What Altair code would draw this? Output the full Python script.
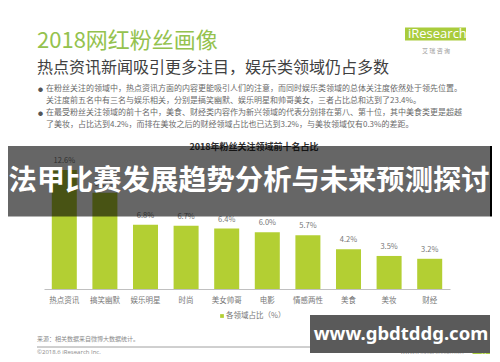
import altair as alt
import pandas as pd

# ---- data ----
categories = ["热点资讯", "搞笑幽默", "娱乐明星", "时尚", "美女帅哥", "电影", "情感两性", "美食", "美妆", "财经"]
shares = [12.6, 10.2, 6.8, 6.7, 6.4, 6.0, 5.7, 4.2, 3.5, 3.2]

title_main = "2018网红粉丝画像"
title_sub = "热点资讯新闻吸引更多注目，娱乐类领域仍占多数"
bullet_lines = [
    "在粉丝关注的领域中，热点资讯方面的内容更能吸引人们的注意，而同时娱乐类领域的总体关注度依然处于领先位置。",
    "关注度前五名中有三名与娱乐相关，分别是搞笑幽默、娱乐明星和帅哥美女，三者占比总和达到了23.4%。",
    "在最受粉丝关注领域的前十名中，美食、财经类内容作为新兴领域的代表分别排在第八、第十位，其中美食类更是超越",
    "了美妆，占比达到4.2%，而排在美妆之后的财经领域占比也已达到3.2%，与美妆领域仅有0.3%的差距。",
]
chart_title = "2018年粉丝关注领域前十名占比"
legend_label = "各领域占比（%）"
source_text = "来源：相关数据来自微博大数据统计。"
copyright_text = "©2018.6 iResearch Inc."
site_text = "www.iresearch.com.cn"
overlay_title = "法甲比赛发展趋势分析与未来预测探讨"
overlay_url = "www.gbdtddg.com"

df = pd.DataFrame({"cat": categories, "val": shares})

CJK = "Noto Sans CJK SC"
GREEN = "#b3cf33"
W, H = 484, 346

one = alt.Chart(pd.DataFrame({"k": [0]}))


def txt(s, x, y, size, color="#666666", weight="normal", align="left", font=CJK, opacity=1.0):
    return one.mark_text(
        align=align, baseline="middle", fontSize=size, color=color,
        fontWeight=weight, font=font, opacity=opacity,
    ).encode(x=alt.value(x), y=alt.value(y), text=alt.value(s))


def box(x1, x2, y1, y2, color, opacity=1.0):
    return one.mark_rect(color=color, opacity=opacity).encode(
        x=alt.value(x1), x2=alt.value(x2), y=alt.value(y1), y2=alt.value(y2)
    )


xscale = alt.Scale(range=[36, 442], paddingInner=0.384, paddingOuter=0.192)
yscale = alt.Scale(domain=[0, 14], range=[281, 281 - 132.2])

bars = alt.Chart(df).mark_bar(color=GREEN).encode(
    x=alt.X("cat:N", sort=None, scale=xscale, title=None,
            axis=alt.Axis(orient="bottom", offset=-65, ticks=False, domainColor="#c0c0c0",
                          labelFont=CJK, labelFontSize=7.5, labelColor="#777777",
                          labelPadding=7, labelAngle=0)),
    y=alt.Y("val:Q", scale=yscale, axis=None),
)

labels = alt.Chart(df).transform_calculate(
    lab="format(datum.val, '.1f') + '%'"
).mark_text(dy=-9, fontSize=7.5, color="#777777", font=CJK).encode(
    x=alt.X("cat:N", sort=None, scale=xscale),
    y=alt.Y("val:Q", scale=yscale),
    text="lab:N",
)

layers = [bars, labels]

# header
layers.append(txt(title_main, 29, 33, 22, color="#94c24e"))
layers.append(txt(title_sub, 29, 60, 16, color="#404040"))
ys = [81, 92.7, 104.7, 117]
for s, yy in zip(bullet_lines, ys):
    layers.append(txt(s, 38, yy, 8, color="#6a6a6a"))
layers.append(txt("●", 30, 81, 5, color="#555555"))
layers.append(txt("●", 30, 104.7, 5, color="#555555"))

# logo
layers.append(box(397, 458, 19.5, 32.5, "#a9cc3c"))
layers.append(txt("iResearch", 400, 26, 13, color="#ffffff", font="Open Sans"))
layers.append(txt("艾    瑞    咨    询", 428, 43, 6, color="#9a9a9a", align="center"))

# chart title, legend, footer
layers.append(txt(chart_title, 246, 139, 9, color="#333333", weight="bold", align="center"))
layers.append(one.mark_square(color=GREEN, size=14, opacity=1).encode(x=alt.value(214), y=alt.value(308)))
layers.append(txt(legend_label, 218, 308, 7.5, color="#777777"))
layers.append(txt(source_text, 29, 331, 6, color="#8a8a8a"))
layers.append(one.mark_rule(color="#a0a0a0", strokeWidth=1).encode(
    x=alt.value(29), x2=alt.value(470), y=alt.value(339)))
layers.append(txt(copyright_text, 29, 343.5, 6, color="#8a8a8a", font="Open Sans"))
layers.append(txt(site_text, 424, 343.5, 6, color="#9a9a9a", align="center", font="Open Sans"))
tri = one.mark_point(
    shape="M1,-1 L1,1 L-1,1 Z", filled=True, color="#a9cc3c", opacity=1, size=900, strokeWidth=0,
).encode(x=alt.value(467), y=alt.value(343))
layers.append(tri)
layers.append(txt("17", 476, 343.5, 6, color="#ffffff", align="center", font="Open Sans"))

# overlays
layers.append(box(0, 482, 138, 208.5, "#000000", 0.6))
layers.append(box(482, W, 138, 208.5, "#000000", 1.0))
layers.append(txt(overlay_title, 241, 174, 28.3, color="#ffffff", weight="bold", align="center"))
layers.append(box(302, 482, 307, 345, "#5a5a5a", 1.0))
layers.append(txt(overlay_url, 393, 326, 18.5, color="#ffffff", weight="bold", align="center",
                  font="Noto Sans"))

chart = alt.layer(*layers).properties(
    width=W, height=H, autosize=alt.AutoSizeParams(type="none"), padding=0,
    background="#ffffff",
).configure_view(stroke=None)

chart.save("out.html", embed_options={"renderer": "svg", "actions": False})
